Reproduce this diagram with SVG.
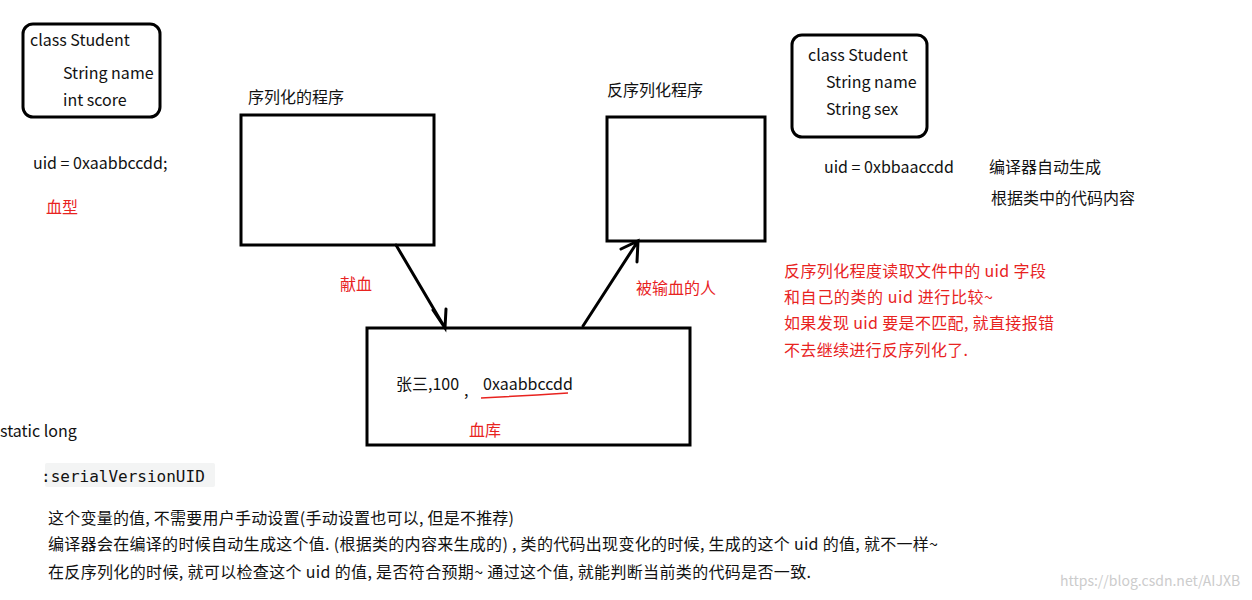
<svg xmlns="http://www.w3.org/2000/svg" width="1252" height="600" viewBox="0 0 1252 600">
<style>
text{font-family:"Noto Sans CJK SC","Noto Sans",sans-serif;font-size:16px;fill:#111}
.r{fill:#e8231f}
.b{fill:none;stroke:#000;stroke-width:3}
.l{stroke:#000;stroke-width:3;fill:none;stroke-linecap:round}
</style>
<rect width="1252" height="600" fill="#fff"/>
<g id="student1"><rect class="b" x="23" y="24" width="137" height="93" rx="10"/>
<text x="30" y="46">class Student</text><text x="63" y="79">String name</text><text x="63" y="106">int score</text></g>
<text x="33" y="169">uid = 0xaabbccdd;</text>
<text class="r" x="46" y="213">血型</text>
<g id="ser"><rect class="b" x="241" y="115" width="193" height="130"/><text x="248" y="103">序列化的程序</text></g>
<g id="deser"><rect class="b" x="607" y="117" width="158" height="124"/><text x="607" y="96">反序列化程序</text></g>
<g id="student2"><rect class="b" x="792" y="35" width="135" height="102" rx="10"/>
<text x="808" y="61">class Student</text><text x="826" y="88">String name</text><text x="826" y="115">String sex</text></g>
<text x="824" y="173">uid = 0xbbaaccdd</text>
<text x="989" y="173">编译器自动生成</text>
<text x="991" y="204">根据类中的代码内容</text>
<g id="bank"><rect class="b" x="367" y="328" width="323" height="117"/>
<text x="396" y="390">张三,100</text><text x="464" y="396">,</text><text x="483" y="390">0xaabbccdd</text>
<path d="M481 398 Q520 396 568 393" stroke="#e8231f" stroke-width="1.5" fill="none"/>
<text class="r" x="469" y="436">血库</text></g>
<g id="connectors">
<path class="l" d="M396 245 L445 328 M433 310 L445 328 L446 309"/>
<path class="l" d="M583 326 L638 241 M621 249 L638 241 L637 262"/>
</g>
<text class="r" x="340" y="290">献血</text>
<text class="r" x="636" y="294">被输血的人</text>
<text class="r" x="784" y="277" textLength="262">反序列化程度读取文件中的 uid 字段</text>
<text class="r" x="784" y="303" textLength="209">和自己的类的 uid 进行比较~</text>
<text class="r" x="784" y="329" textLength="270">如果发现 uid 要是不匹配, 就直接报错</text>
<text class="r" x="784" y="356" textLength="184">不去继续进行反序列化了.</text>
<text x="0" y="437">static long</text>
<rect x="45" y="463" width="170" height="24" fill="#f3f4f4" rx="2"/>
<text x="41" y="482" style="font-family:'DejaVu Sans Mono',monospace;font-size:16px">:serialVersionUID</text>
<text x="48" y="524" textLength="466">这个变量的值, 不需要用户手动设置(手动设置也可以, 但是不推荐)</text>
<text x="48" y="550" textLength="890">编译器会在编译的时候自动生成这个值. (根据类的内容来生成的) , 类的代码出现变化的时候, 生成的这个 uid 的值, 就不一样~</text>
<text x="48" y="578" textLength="763">在反序列化的时候, 就可以检查这个 uid 的值, 是否符合预期~ 通过这个值, 就能判断当前类的代码是否一致.</text>
<text x="1060" y="586" style="fill:#ccc;font-size:14px">https://blog.csdn.net/AIJXB</text>
</svg>
